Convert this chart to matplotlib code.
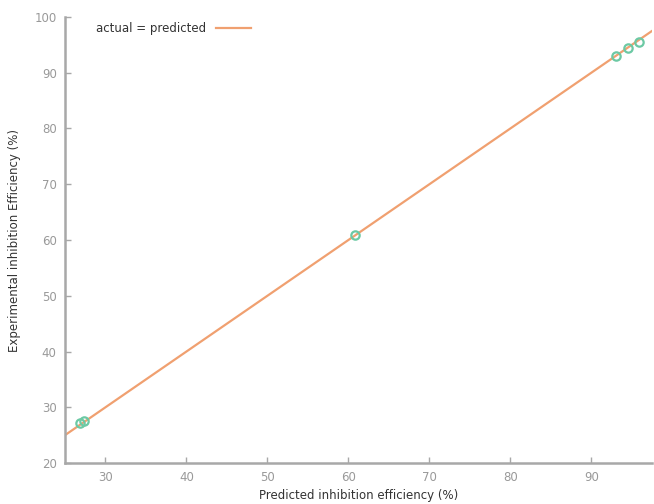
import matplotlib
matplotlib.use("Agg")
import matplotlib.pyplot as plt
import numpy as np

# values
predicted = [26.8, 27.4, 60.8, 93.1, 94.5, 95.9]
experimental = [27.1, 27.5, 60.9, 93.0, 94.5, 95.6]
x_range = [25.0, 97.5]
y_range = [20, 100]
x_ticks = [30, 40, 50, 60, 70, 80, 90]
y_ticks = [20, 30, 40, 50, 60, 70, 80, 90, 100]

grey = "#a8a8a8"
label_grey = "#999999"

fig = plt.figure(figsize=(6.54, 5.04), dpi=100)
ax = fig.add_axes([0.0994, 0.0813, 0.8976, 0.885])

line_x = np.array(x_range)
ax.plot(line_x, line_x, color="#f0a070", lw=1.6, label="actual = predicted", zorder=2)
ax.plot(predicted, experimental, linestyle="none", marker="o", ms=6,
        mfc="none", mec="#6cc9a4", mew=1.6, zorder=3)

ax.set_xlim(*x_range)
ax.set_ylim(*y_range)
ax.set_xticks(x_ticks)
ax.set_yticks(y_ticks)

for side in ["top", "right"]:
    ax.spines[side].set_visible(False)
for side in ["left", "bottom"]:
    ax.spines[side].set_color(grey)
    ax.spines[side].set_linewidth(1.8)

ax.tick_params(direction="in", length=4, width=1, color=grey,
               labelcolor=label_grey, labelsize=8.5, pad=6)

ax.set_xlabel("Predicted inhibition efficiency (%)", fontsize=8.5, color="#333333", labelpad=3)
ax.set_ylabel("Experimental inhibition Efficiency (%)", fontsize=8.5, color="#333333", labelpad=10)

ax.legend(loc="upper left", bbox_to_anchor=(0.035, 1.012), frameon=False,
          markerfirst=False, fontsize=8.5, handlelength=3, labelcolor="#333333")

fig.savefig("out.png", dpi=100)
